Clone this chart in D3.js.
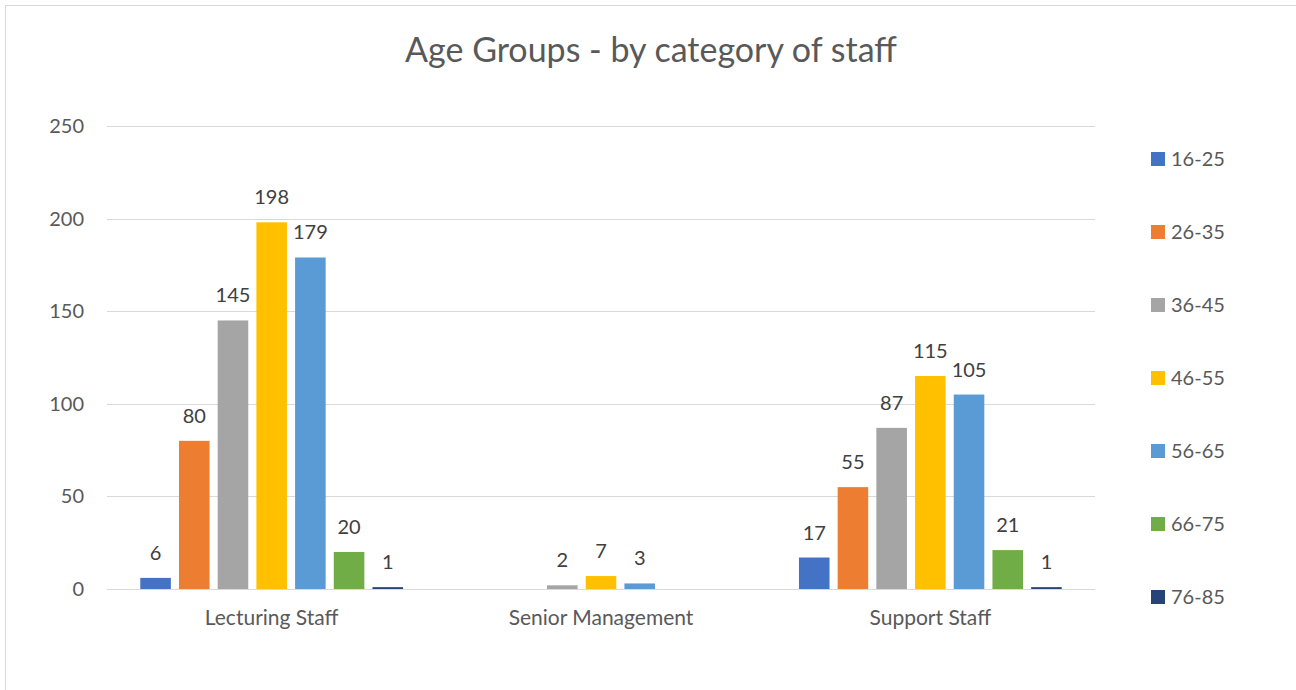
<!DOCTYPE html>
<html lang="en">
<head>
    <meta charset="UTF-8">
    <title>Age Groups - by category of staff</title>
    <script src="https://d3js.org/d3.v7.min.js"></script>
    <style>
        body { margin: 0; background: #fff; font-family: 'Lato', 'Open Sans', sans-serif; }
        .grid line { stroke: #d9d9d9; stroke-width: 1; }
        .tick-label { font-size: 20px; fill: #595959; }
        .cat-label { font-size: 21px; }
        .data-label { font-size: 20px; fill: #404040; text-anchor: middle; }
        .legend-text { font-size: 20px; fill: #595959; }
    </style>
</head>
<body>
    <svg id="chart" width="1296" height="690"></svg>
    <script>
        // chart data
        const categories = ["Lecturing Staff", "Senior Management", "Support Staff"];
        const ageGroups = ["16-25", "26-35", "36-45", "46-55", "56-65", "66-75", "76-85"];
        // values per age group, in category order (null = blank cell)
        const v1625 = [6, null, 17];
        const v2635 = [80, null, 55];
        const v3645 = [145, 2, 87];
        const v4655 = [198, 7, 115];
        const v5665 = [179, 3, 105];
        const v6675 = [20, null, 21];
        const v7685 = [1, null, 1];
        const yTicks = [0, 50, 100, 150, 200, 250];
        const colors = ["#4472C4", "#ED7D31", "#A5A5A5", "#FFC000", "#5B9BD5", "#70AD47", "#264478"];

        const seriesValues = [v1625, v2635, v3645, v4655, v5665, v6675, v7685];

        const svg = d3.select("#chart");

        // frame
        svg.append("line").attr("x1", 5).attr("x2", 1296).attr("y1", 5.5).attr("y2", 5.5).attr("stroke", "#d9d9d9");
        svg.append("line").attr("x1", 5.5).attr("x2", 5.5).attr("y1", 5).attr("y2", 690).attr("stroke", "#d9d9d9");

        // title
        svg.append("text")
            .attr("x", 651).attr("y", 62)
            .attr("text-anchor", "middle")
            .attr("font-size", "34px")
            .attr("fill", "#595959")
            .text("Age Groups - by category of staff");

        const plotLeft = 107, plotRight = 1095, plotTop = 126, plotBottom = 589;

        const y = d3.scaleLinear().domain([0, 250]).range([plotBottom, plotTop]);
        const x0 = d3.scaleBand().domain(categories).range([plotLeft, plotRight]).padding(0);
        const x1 = d3.scaleBand().domain(ageGroups).range([0, x0.bandwidth()])
            .paddingInner(0.21).paddingOuter(0.86);

        // gridlines
        svg.append("g").attr("class", "grid")
            .selectAll("line")
            .data(yTicks)
            .enter()
            .append("line")
            .attr("x1", plotLeft).attr("x2", plotRight)
            .attr("y1", d => Math.round(y(d)) + 0.5)
            .attr("y2", d => Math.round(y(d)) + 0.5);

        // y tick labels
        svg.selectAll(".y-label")
            .data(yTicks)
            .enter()
            .append("text")
            .attr("class", "tick-label y-label")
            .attr("x", 84)
            .attr("y", d => y(d))
            .attr("dy", "0.35em")
            .attr("text-anchor", "end")
            .text(d => d);

        // bars
        const flat = [];
        seriesValues.forEach((vals, si) => {
            vals.forEach((v, ci) => {
                if (v !== null) flat.push({ cat: categories[ci], grp: ageGroups[si], value: v, color: colors[si] });
            });
        });

        svg.selectAll(".bar")
            .data(flat)
            .enter()
            .append("rect")
            .attr("class", "bar")
            .attr("x", d => x0(d.cat) + x1(d.grp))
            .attr("width", x1.bandwidth())
            .attr("y", d => y(d.value))
            .attr("height", d => Math.max(y(0) - y(d.value), 1.5))
            .attr("fill", d => d.color);

        // data labels
        svg.selectAll(".data-label")
            .data(flat)
            .enter()
            .append("text")
            .attr("class", "data-label")
            .attr("x", d => x0(d.cat) + x1(d.grp) + x1.bandwidth() / 2)
            .attr("y", d => y(d.value) - 18)
            .text(d => d.value);

        // category labels
        svg.selectAll(".cat-label")
            .data(categories)
            .enter()
            .append("text")
            .attr("class", "tick-label cat-label")
            .attr("x", d => x0(d) + x0.bandwidth() / 2)
            .attr("y", 625)
            .attr("text-anchor", "middle")
            .text(d => d);

        // legend
        const legend = svg.selectAll(".legend")
            .data(ageGroups)
            .enter()
            .append("g")
            .attr("class", "legend")
            .attr("transform", (d, i) => `translate(1151, ${159 + i * 73})`);

        legend.append("rect")
            .attr("x", 0).attr("y", -7)
            .attr("width", 14).attr("height", 14)
            .attr("fill", (d, i) => colors[i]);

        legend.append("text")
            .attr("class", "legend-text")
            .attr("x", 20)
            .attr("y", 0)
            .attr("dy", "0.35em")
            .text(d => d);
    </script>
</body>
</html>
